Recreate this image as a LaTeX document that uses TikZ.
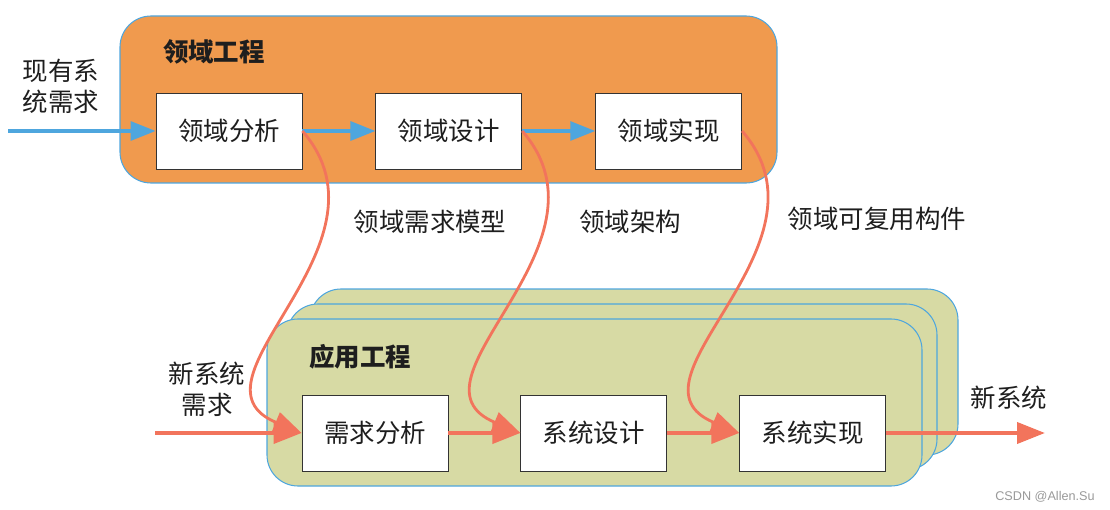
\documentclass[tikz,border=0pt]{standalone}
\usepackage{fontspec}
\usepackage{tikz}
\usetikzlibrary{positioning,arrows.meta}
\newfontfamily\cjk{Noto Sans CJK SC}
\newfontfamily\latinfont{Liberation Sans}
\definecolor{domorange}{HTML}{F09A4E}
\definecolor{appgreen}{HTML}{D7DAA4}
\definecolor{edgeblue}{HTML}{4EA6DE}
\definecolor{flowred}{HTML}{F2745C}
\definecolor{inkgray}{HTML}{1E1E1E}

\begin{document}
\begin{tikzpicture}[x=0.02cm, y=-0.02cm, font=\cjk\fontsize{14.5}{17.5}\selectfont, text=inkgray,
  stepbox/.style={draw=black!80, line width=0.5pt, fill=white, minimum width=2.92cm,
    minimum height=1.52cm, inner sep=0pt},
  panel/.style={draw=edgeblue, line width=0.6pt, rounded corners=0.62cm},
  blueflow/.style={draw=edgeblue, line width=1.8pt, -{Triangle[length=0.5cm, width=0.38cm]}},
  redflow/.style={draw=flowred, line width=2.2pt, -{Triangle[length=0.56cm, width=0.42cm]}},
  reuse/.style={draw=flowred, line width=1.6pt, -{Triangle[length=0.56cm, width=0.42cm]}},
  title/.style={font=\cjk\fontsize{14.5}{17.5}\selectfont\bfseries},
  note/.style={align=center, inner sep=0pt}]
  \useasboundingbox (0,0) rectangle (1110,510);
  % domain engineering panel
  \draw[panel, fill=domorange] (120,16) rectangle (777,183);
  % application engineering, three stacked copies
  \draw[panel, fill=appgreen] (310,289) rectangle (958,455);
  \draw[panel, fill=appgreen] (287,304) rectangle (937,470);
  \draw[panel, fill=appgreen] (267,319) rectangle (922,486);

  \node[title] (dtitle) at (214,52) {领域工程};
  \node[stepbox] (da) at (229,131) {领域分析};
  \node[stepbox, right=1.46cm of da] (dd) {领域设计};
  \node[stepbox, right=1.46cm of dd] (di) {领域实现};

  \node[title] (atitle) at (360,357) {应用工程};
  \node[stepbox] (ra) at (375,433) {需求分析};
  \node[stepbox, right=1.44cm of ra] (sd) {系统设计};
  \node[stepbox, right=1.44cm of sd] (si) {系统实现};

  % labels
  \node[note] (inold) at (61,86) {现有系\\统需求};
  \node[note] (innew) at (207,389) {新系统\\需求};
  \node (outnew) at (1009,398) {新系统};
  \node (lreq) at (430,222) {领域需求模型};
  \node (larch) at (630,222) {领域架构};
  \node (lcomp) at (877,219) {领域可复用构件};
  \node[font=\latinfont\fontsize{7.2}{9}\selectfont, text=black!40] (mark) at (1045,497) {CSDN @Allen.Su};

  % flows
  \coordinate (oldsrc) at (8,131);
  \coordinate (newsrc) at (155,433);
  \coordinate (newdst) at (1045,433);
  \draw[blueflow] (oldsrc) -- (da);
  \draw[blueflow] (da) -- (dd);
  \draw[blueflow] (dd) -- (di);
  \draw[redflow] (newsrc) -- (ra);
  \draw[redflow] (ra) -- (sd);
  \draw[redflow] (sd) -- (si);
  \draw[redflow] (si) -- (newdst);
  % reused assets handed down
  \foreach \src/\dst in {da/ra, dd/sd, di/si}
    \draw[reuse] (\src.east) .. controls +(100,115) and +(-125,-52) .. (\dst.west);
\end{tikzpicture}
\end{document}
